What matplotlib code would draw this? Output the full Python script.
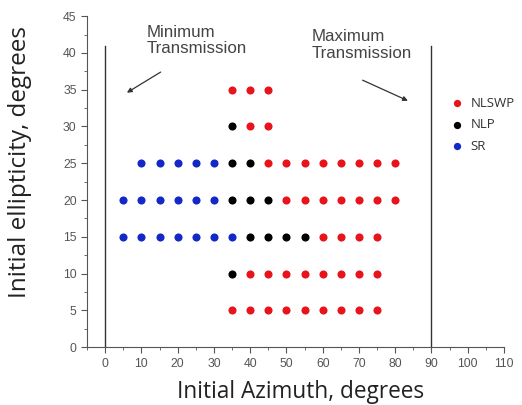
import matplotlib
matplotlib.use("Agg")
import matplotlib.pyplot as plt
from matplotlib.ticker import MultipleLocator

# Data: (azimuth, ellipticity) per regime
nlswp_az = [35, 40, 45,
            40, 45,
            45, 50, 55, 60, 65, 70, 75, 80,
            50, 55, 60, 65, 70, 75, 80,
            60, 65, 70, 75,
            40, 45, 50, 55, 60, 65, 70, 75,
            35, 40, 45, 50, 55, 60, 65, 70, 75]
nlswp_el = [35, 35, 35,
            30, 30,
            25, 25, 25, 25, 25, 25, 25, 25,
            20, 20, 20, 20, 20, 20, 20,
            15, 15, 15, 15,
            10, 10, 10, 10, 10, 10, 10, 10,
            5, 5, 5, 5, 5, 5, 5, 5, 5]
nlp_az = [35, 35, 40, 35, 40, 45, 40, 45, 50, 55, 35]
nlp_el = [30, 25, 25, 20, 20, 20, 15, 15, 15, 15, 10]
sr_az = [10, 15, 20, 25, 30,
         5, 10, 15, 20, 25, 30,
         5, 10, 15, 20, 25, 30, 35]
sr_el = [25, 25, 25, 25, 25,
         20, 20, 20, 20, 20, 20,
         15, 15, 15, 15, 15, 15, 15]
boundary_x = [0, 90]
boundary_top = 41

fig = plt.figure(figsize=(5.22, 4.05), dpi=100)
ax = fig.add_axes([0.1667, 0.143, 0.7988, 0.817])

red = "#e8141c"
blue = "#1428c8"
ax.scatter(nlswp_az, nlswp_el, s=34, color=red, label="NLSWP", zorder=3, linewidths=0)
ax.scatter(nlp_az, nlp_el, s=34, color="black", label="NLP", zorder=3, linewidths=0)
ax.scatter(sr_az, sr_el, s=34, color=blue, label="SR", zorder=3, linewidths=0)

for bx in boundary_x:
    ax.plot([bx, bx], [0, boundary_top], color="#333333", lw=1.0)

ax.set_xlim(-5, 110)
ax.set_ylim(0, 45)
ax.xaxis.set_major_locator(MultipleLocator(10))
ax.xaxis.set_minor_locator(MultipleLocator(5))
ax.yaxis.set_major_locator(MultipleLocator(5))
ax.yaxis.set_minor_locator(MultipleLocator(2.5))
for s in ["top", "right"]:
    ax.spines[s].set_visible(False)
for s in ["left", "bottom"]:
    ax.spines[s].set_color("#555555")
ax.tick_params(which="major", length=4, color="#555555", labelsize=8.8,
               labelcolor="#555555", direction="out")
ax.tick_params(which="minor", length=2.5, color="#555555", direction="out")
for lab in ax.get_xticklabels() + ax.get_yticklabels():
    lab.set_fontfamily("Liberation Sans")

ax.set_xlabel("Initial Azimuth, degrees", fontsize=16.3, family="Open Sans",
              color="#222222")
ax.xaxis.set_label_coords(0.513, -0.098)
ax.set_ylabel("Initial ellipticity, degrees", fontsize=17.5, family="Open Sans",
              color="#222222")
ax.yaxis.set_label_coords(-0.132, 0.56)

ax.text(11.5, 43.8, "Minimum\nTransmission", fontsize=12.2, family="Liberation Sans",
        color="#444444", va="top", ha="left", linespacing=1.12)
ax.annotate("", xy=(6.0, 34.6), xytext=(15.3, 37.4),
            arrowprops=dict(arrowstyle="-|>", color="#333333", lw=0.9,
                            mutation_scale=7, shrinkA=0, shrinkB=0))
ax.text(57, 43.2, "Maximum\nTransmission", fontsize=12.2, family="Liberation Sans",
        color="#444444", va="top", ha="left", linespacing=1.12)
ax.annotate("", xy=(83.5, 33.5), xytext=(71, 36.3),
            arrowprops=dict(arrowstyle="-|>", color="#333333", lw=0.9,
                            mutation_scale=7, shrinkA=0, shrinkB=0))

leg = ax.legend(loc="upper left", bbox_to_anchor=(0.845, 0.785), frameon=False,
                prop={"family": "Open Sans", "size": 9.5}, handletextpad=0.45,
                borderpad=0.2, labelspacing=0.65, markerscale=0.9,
                handlelength=1.2)
for t in leg.get_texts():
    t.set_color("#333333")

fig.savefig("out.png", dpi=100)
